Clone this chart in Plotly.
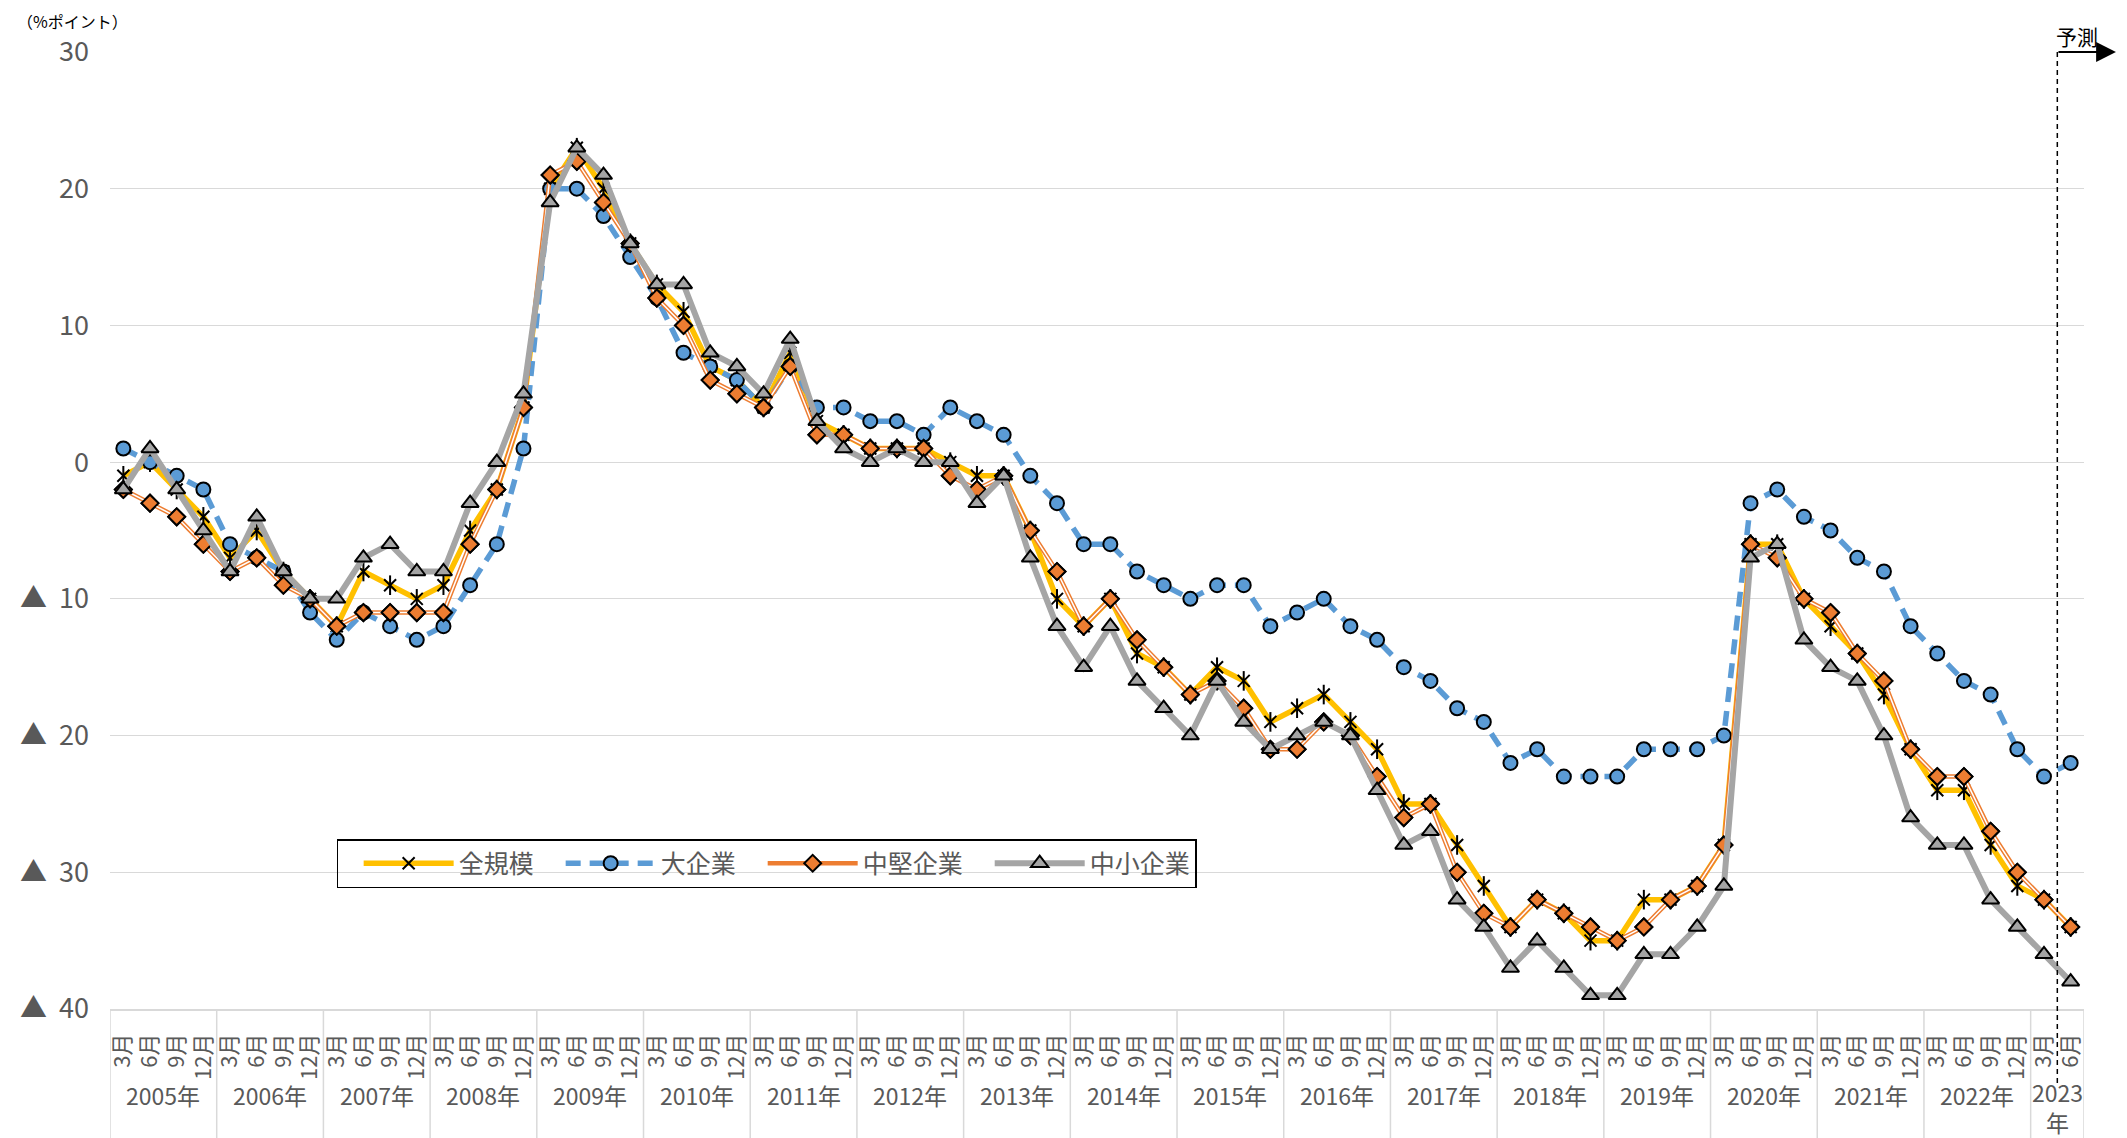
import plotly.graph_objects as go

# ---- data (雇用人員判断DI, %ポイント) ----
years = [str(y) for y in range(2005, 2024)]
months = ["3月", "6月", "9月", "12月"]
month_labels = [m for y in years[:-1] for m in months] + ["3月", "6月"]

zen_kibo = [-1, 0, -2, -4, -7, -5, -8, -10, -12, -8, -9, -10, -9, -5, -2, 4,
            20, 23, 20, 16, 13, 11, 7, 6, 4, 8, 3, 2, 1, 1, 1, 0,
            -1, -1, -5, -10, -12, -10, -14, -15, -17, -15, -16, -19, -18, -17, -19, -21,
            -25, -25, -28, -31, -34, -32, -33, -35, -35, -32, -32, -31, -28, -6, -6, -10,
            -12, -14, -17, -21, -24, -24, -28, -31, -32, -34]
dai_kigyo = [1, 0, -1, -2, -6, -7, -8, -11, -13, -11, -12, -13, -12, -9, -6, 1,
             20, 20, 18, 15, 12, 8, 7, 6, 4, 7, 4, 4, 3, 3, 2, 4,
             3, 2, -1, -3, -6, -6, -8, -9, -10, -9, -9, -12, -11, -10, -12, -13,
             -15, -16, -18, -19, -22, -21, -23, -23, -23, -21, -21, -21, -20, -3, -2, -4,
             -5, -7, -8, -12, -14, -16, -17, -21, -23, -22]
chuken = [-2, -3, -4, -6, -8, -7, -9, -10, -12, -11, -11, -11, -11, -6, -2, 4,
          21, 22, 19, 16, 12, 10, 6, 5, 4, 7, 2, 2, 1, 1, 1, -1,
          -2, -1, -5, -8, -12, -10, -13, -15, -17, -16, -18, -21, -21, -19, -20, -23,
          -26, -25, -30, -33, -34, -32, -33, -34, -35, -34, -32, -31, -28, -6, -7, -10,
          -11, -14, -16, -21, -23, -23, -27, -30, -32, -34]
chusho = [-2, 1, -2, -5, -8, -4, -8, -10, -10, -7, -6, -8, -8, -3, 0, 5,
          19, 23, 21, 16, 13, 13, 8, 7, 5, 9, 3, 1, 0, 1, 0, 0,
          -3, -1, -7, -12, -15, -12, -16, -18, -20, -16, -19, -21, -20, -19, -20, -24,
          -28, -27, -32, -34, -37, -35, -37, -39, -39, -36, -36, -34, -31, -7, -6, -13,
          -15, -16, -20, -26, -28, -28, -32, -34, -36, -38]

y_ticks = [30, 20, 10, 0, -10, -20, -30, -40]
y_ticktext = ["30", "20", "10", "0", "▲\u00a0\u00a010", "▲\u00a0\u00a020", "▲\u00a0\u00a030", "▲\u00a0\u00a040"]
series_names = ["全規模", "大企業", "中堅企業", "中小企業"]

x = list(range(len(month_labels)))
FONT = "Liberation Sans Narrow, Noto Sans CJK JP, sans-serif"
JP = "Noto Sans CJK JP"
GRAY_TXT = "#595959"
GRID = "#D9D9D9"

fig = go.Figure()

# 全規模
fig.add_trace(go.Scatter(
    x=x, y=zen_kibo, mode="lines+markers", name=series_names[0], legendgroup="zen",
    line=dict(color="#FFC000", width=5.5),
    marker=dict(symbol="x-thin-open", size=12, color="black", line=dict(color="black", width=2))))
fig.add_trace(go.Scatter(
    x=x, y=zen_kibo, mode="markers", showlegend=False, legendgroup="zen", hoverinfo="skip",
    marker=dict(symbol="line-ns-open", size=14, color="black", line=dict(color="black", width=2))))

# 大企業
fig.add_trace(go.Scatter(
    x=x, y=dai_kigyo, mode="lines+markers", name=series_names[1],
    line=dict(color="#5B9BD5", width=5.5, dash="15px,9px"),
    marker=dict(symbol="circle", size=14, color="#5B9BD5", line=dict(color="black", width=2))))

# 中堅企業 (double line)
fig.add_trace(go.Scatter(
    x=x, y=chuken, mode="lines+markers", name=series_names[2], legendgroup="chu",
    line=dict(color="#ED7D31", width=4.5),
    marker=dict(symbol="diamond", size=13, color="#ED7D31", line=dict(color="black", width=2))))
fig.add_trace(go.Scatter(
    x=x, y=chuken, mode="lines", showlegend=False, legendgroup="chu", hoverinfo="skip",
    line=dict(color="white", width=1.5)))
fig.add_trace(go.Scatter(
    x=x, y=chuken, mode="markers", showlegend=False, legendgroup="chu", hoverinfo="skip",
    marker=dict(symbol="diamond", size=13, color="#ED7D31", line=dict(color="black", width=2))))

# 中小企業
fig.add_trace(go.Scatter(
    x=x, y=chusho, mode="lines+markers", name=series_names[3],
    line=dict(color="#A5A5A5", width=6),
    marker=dict(symbol="triangle-up", size=15, color="#A5A5A5", line=dict(color="black", width=2))))

# page geometry (page body has an 8px margin)
OX, OY = 8, 8
L, R, T, B = 99, 43, 44, 129
W, H = 2119, 1130
PW = W - L - R
PH = H - T - B


def px_x(px):
    return (px - OX - L) / PW


def px_y(py):
    return (OY + T + PH - py) / PH


shapes = []
n = len(month_labels)
seps = [-0.5 + 4 * k for k in range(len(years))] + [n - 0.5]
for s in seps:
    shapes.append(dict(type="line", xref="x", yref="paper", x0=s, x1=s, y0=0, y1=px_y(1140),
                       line=dict(color=GRID, width=1.5), layer="below"))
# forecast dashed line
fc = n - 1.5
shapes.append(dict(type="line", xref="x", yref="paper", x0=fc, x1=fc, y0=1, y1=px_y(1087),
                   line=dict(color="black", width=1.5, dash="5px,4px")))

annotations = []
for k, yr in enumerate(years[:-1]):
    annotations.append(dict(x=4 * k + 1.5, y=px_y(1095), xref="x", yref="paper",
                            xanchor="center", yanchor="middle",
                            text=yr + "年", showarrow=False,
                            font=dict(family=FONT, size=23, color=GRAY_TXT)))
annotations.append(dict(x=n - 1.5, y=px_y(1107), xref="x", yref="paper",
                        xanchor="center", yanchor="middle",
                        text=years[-1] + "<br>年", showarrow=False,
                        font=dict(family=FONT, size=23, color=GRAY_TXT)))
annotations.append(dict(x=px_x(12), y=px_y(21), xref="paper", yref="paper",
                        xanchor="left", yanchor="middle",
                        text="（%ポイント）", showarrow=False,
                        font=dict(family=JP, size=16, color="black")))
annotations.append(dict(x=px_x(2077), y=px_y(36), xref="paper", yref="paper",
                        xanchor="center", yanchor="middle",
                        text="予測", showarrow=False,
                        font=dict(family=JP, size=21, color="black")))
annotations.append(dict(x=px_x(2116), y=30, xref="paper", yref="y",
                        ax=-(2116 - 2057), ay=0, text="", showarrow=True,
                        arrowhead=2, arrowsize=2.2, arrowwidth=1.8, arrowcolor="black", standoff=0))

fig.update_layout(
    width=W, height=H,
    margin=dict(l=L, r=R, t=T, b=B),
    paper_bgcolor="white", plot_bgcolor="white",
    font=dict(family=FONT, color=GRAY_TXT),
    showlegend=True,
    legend=dict(orientation="h", x=px_x(334), y=px_y(839),
                xanchor="left", yanchor="top", bgcolor="rgba(0,0,0,0)",
                bordercolor="black", borderwidth=1.5,
                font=dict(family=JP, size=25, color=GRAY_TXT),
                itemwidth=90, indentation=22),
    xaxis=dict(range=[-0.5, n - 0.5], tickmode="array", tickvals=x, ticktext=month_labels,
               tickangle=-90, tickfont=dict(family=FONT, size=22, color=GRAY_TXT),
               showgrid=False, zeroline=False, showline=True, linecolor=GRID, linewidth=1.5,
               ticks="", ticklabelstandoff=14, fixedrange=True),
    yaxis=dict(range=[-40, 30], tickmode="array", tickvals=y_ticks, ticktext=y_ticktext,
               tickfont=dict(family=FONT, size=27, color=GRAY_TXT),
               showgrid=True, gridcolor=GRID, gridwidth=1.3, zeroline=False, showline=False,
               ticks="", ticklabelstandoff=20, fixedrange=True),
    shapes=shapes, annotations=annotations,
)

fig.write_html("out.html")
